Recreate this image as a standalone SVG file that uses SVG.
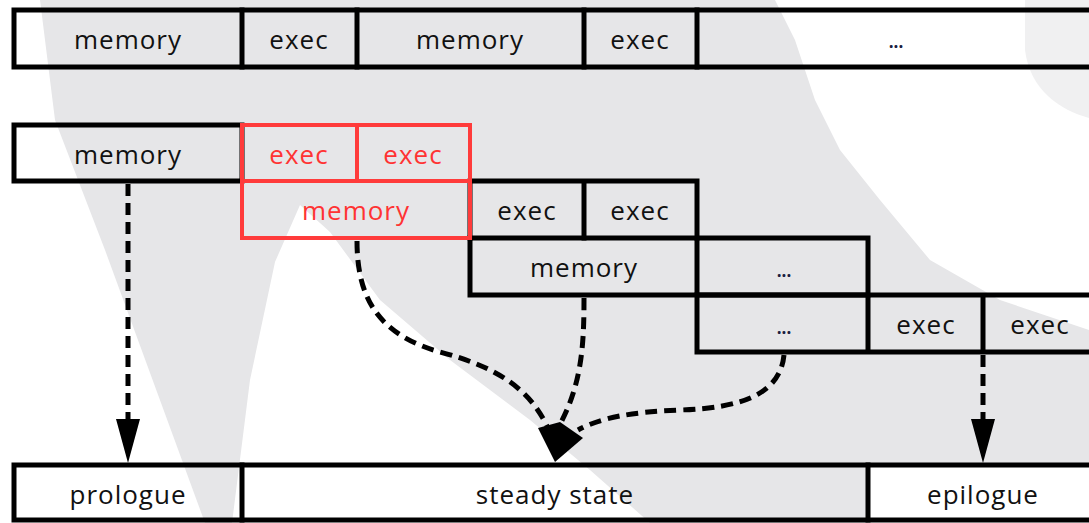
<svg xmlns="http://www.w3.org/2000/svg" width="1089" height="523" viewBox="0 0 1089 523">
<defs>
<style>
.bg{fill:#e6e6e8}
.wh{fill:#ffffff}
.lg{fill:#f0f0f1}
.box{fill:none;stroke:#000;stroke-width:5;stroke-linecap:square}
.rbox{fill:none;stroke:#ff3b3b;stroke-width:4;stroke-linecap:square}
.t{font-family:"Open Sans","DejaVu Sans",sans-serif;font-size:26px;letter-spacing:1px;text-anchor:middle;fill:#111}
.r{fill:#ff3333}
.dots{font-family:"Open Sans","DejaVu Sans",sans-serif;font-size:17px;font-weight:bold;text-anchor:middle;fill:#1a2040}
.dash{fill:none;stroke:#000;stroke-width:5;stroke-dasharray:12 7}
.head{fill:#000}
</style>
</defs>
<g id="background">
<rect class="bg" x="0" y="0" width="1089" height="523"/>
<polygon class="wh" points="0,0 40,0 55,120 105,250 205,523 0,523"/>
<polygon class="wh" points="232,523 250,380 275,262 300,205 330,232 380,300 450,360 530,420 590,470 650,523"/>
<polygon class="wh" points="775,0 1089,0 1089,330 1000,300 930,260 880,200 840,150 815,100 795,40"/>
<path class="lg" d="M1025,0 H1089 V118 C1060,110 1030,90 1025,50 Z"/>
<rect class="wh" x="868" y="467" width="221" height="56"/>
</g>
<g id="row1">
<rect class="box" x="14" y="10" width="1090" height="57"/>
<line class="box" x1="242" y1="10" x2="242" y2="67"/>
<line class="box" x1="357" y1="10" x2="357" y2="67"/>
<line class="box" x1="584" y1="10" x2="584" y2="67"/>
<line class="box" x1="697" y1="10" x2="697" y2="67"/>
<text class="t" x="128" y="49">memory</text>
<text class="t" x="299" y="49">exec</text>
<text class="t" x="470" y="49">memory</text>
<text class="t" x="640" y="49">exec</text>
<text class="dots" x="896" y="48">...</text>
</g>
<g id="row2-memory">
<rect class="box" x="14" y="125" width="228" height="56"/>
<text class="t" x="128" y="164">memory</text>
</g>
<g id="row3-black">
<path class="box" d="M470,181 H697 V238 M584,181 V238 M470,181 V238"/>
<text class="t" x="527" y="220">exec</text>
<text class="t" x="640" y="220">exec</text>
</g>
<g id="row4">
<path class="box" d="M470,238 H868 V295 H470 Z M697,238 V295"/>
<text class="t" x="584" y="277">memory</text>
<text class="dots" x="784" y="277">...</text>
</g>
<g id="row5">
<path class="box" d="M697,295 H1104 M697,352 H1104 M697,295 V352 M868,295 V352 M983,295 V352"/>
<text class="dots" x="784" y="334">...</text>
<text class="t" x="926" y="334">exec</text>
<text class="t" x="1040" y="334">exec</text>
</g>
<g id="red-block">
<rect class="rbox" x="242" y="125" width="228" height="56"/>
<line class="rbox" x1="357" y1="125" x2="357" y2="181"/>
<rect class="rbox" x="242" y="181" width="228" height="57"/>
<text class="t r" x="299" y="164">exec</text>
<text class="t r" x="413" y="164">exec</text>
<text class="t r" x="356" y="220">memory</text>
</g>
<g id="bottom-row">
<rect class="box" x="14" y="465" width="1090" height="55"/>
<line class="box" x1="242" y1="465" x2="242" y2="520"/>
<line class="box" x1="868" y1="465" x2="868" y2="520"/>
<text class="t" x="128" y="504">prologue</text>
<text class="t" x="555" y="504">steady state</text>
<text class="t" x="983" y="504">epilogue</text>
</g>
<g id="connectors">
<line class="dash" x1="128" y1="184" x2="128" y2="420"/>
<polygon class="head" points="116,419 140,419 128,463"/>
<line class="dash" x1="983" y1="355" x2="983" y2="420"/>
<polygon class="head" points="971,419 995,419 983,463"/>
<path class="dash" d="M357,241 C357,300 380,335 440,352 C500,368 530,390 548,428"/>
<path class="dash" d="M584,298 C584,345 582,385 558,428"/>
<path class="dash" d="M784,355 C780,395 740,408 680,410 C630,412 600,418 578,430"/>
<polygon class="head" points="538,428 560,422 583,438 555,462"/>
</g>
</svg>
